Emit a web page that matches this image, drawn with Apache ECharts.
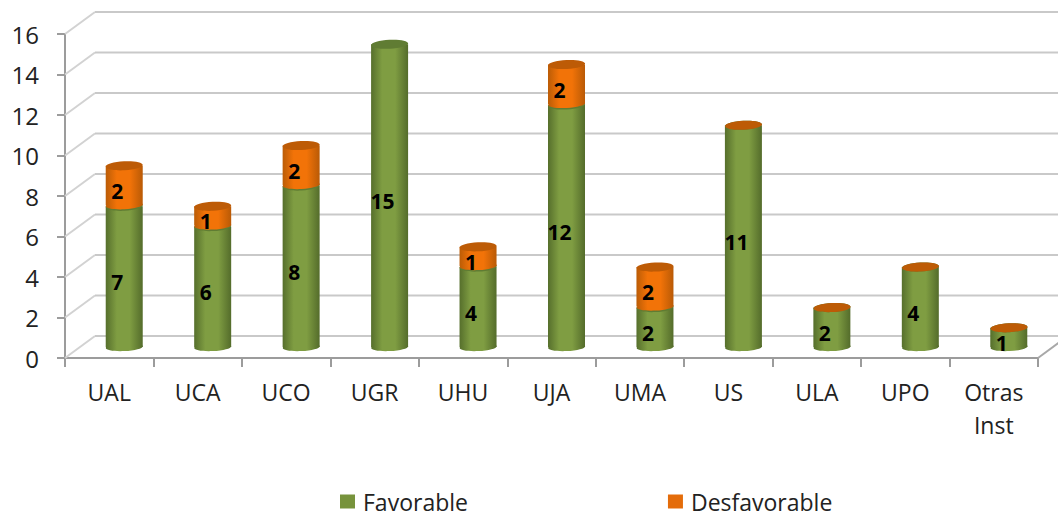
<!DOCTYPE html>
<html>
<head>
<meta charset="utf-8">
<style>
html,body{margin:0;padding:0;background:#fff;}
#myChart{width:1058px;height:516px;}
</style>
<script src="https://cdn.jsdelivr.net/npm/echarts@6/dist/echarts.min.js"></script>
</head>
<body>
<div id="myChart"></div>
<script>
var categories = ["UAL","UCA","UCO","UGR","UHU","UJA","UMA","US","ULA","UPO","Otras\nInst"];
var favorable = [7,6,8,15,4,12,2,11,2,4,1];
// null = no cap drawn at all (UGR), 0 = only the orange cap shows
var desfavorable = [2,1,2,null,1,2,2,0,0,0,0];
var yTicks = [0,2,4,6,8,10,12,14,16];

var depthX = 30, depthY = -22;
var radiusX = 18.5, radiusY = 4.5, tilt = 0.05;
var font = '"Open Sans", sans-serif';

function sideFill(edge, mid, edge2) {
  return {type:"linear",x:0,y:0,x2:1,y2:0,colorStops:[
    {offset:0,color:edge},{offset:0.3,color:mid},{offset:0.65,color:mid},{offset:1,color:edge2}
  ]};
}

function cylinder(colors, showCap) {
  return function (params, api) {
    var base = api.coord([api.value(0), api.value(1)]);
    var top = api.coord([api.value(0), api.value(2)]);
    var cx = base[0] + depthX / 2;
    var y0 = base[1] + depthY / 2;
    var y1 = top[1] + depthY / 2 + 1;
    var fill = sideFill(colors.edge, colors.mid, colors.edge2);
    var kids = [];
    var ell = function (cy, ry, style) {
      return {type:"ellipse",shape:{cx:cx,cy:cy,rx:radiusX,ry:ry},
        rotation:tilt,originX:cx,originY:cy,style:style};
    };
    if (y0 > y1) {
      kids.push(ell(y0, 4, {fill:fill}));
      kids.push({type:"rect",shape:{x:cx-radiusX,y:y1,width:radiusX*2,height:y0-y1},style:{fill:fill}});
    }
    if (showCap) kids.push(ell(y1, radiusY, {fill:colors.cap}));
    var amount = api.value(3);
    if (amount > 0) {
      var mid = api.coord([api.value(0), (api.value(1)+api.value(2))/2]);
      kids.push({type:"text",x:mid[0]+8,y:mid[1]-5,style:{
        text:String(amount),fill:"#000",font:"bold 21px "+font,align:"center",verticalAlign:"middle"}});
    }
    return {type:"group",children:kids};
  };
}

var favData = [], desData = [];
for (var i = 0; i < categories.length; i++) {
  favData.push([i, 0, favorable[i], favorable[i]]);
  if (desfavorable[i] !== null) {
    desData.push([i, favorable[i], favorable[i]+desfavorable[i], desfavorable[i]]);
  }
}

var green = {edge:"#566f2c",mid:"#7f9d42",edge2:"#546c2b",cap:"#607c33"};
var orange = {edge:"#bb5c06",mid:"#f27308",edge2:"#b95a06",cap:"#bd5b06"};

var myChart = echarts.init(document.getElementById("myChart"), null, {renderer:"svg"});
var option = {
  animation:false,
  backgroundColor:"#fff",
  textStyle:{fontFamily:font},
  legend:{
    left:335,top:485,itemWidth:15,itemHeight:14,itemGap:200,
    icon:"rect",
    textStyle:{fontSize:23,color:"#222",fontFamily:font,padding:[0,0,0,3]},
    data:["Favorable","Desfavorable"]
  },
  grid:{left:65,right:20,top:34,bottom:158},
  xAxis:{
    type:"category",data:categories,
    axisLine:{lineStyle:{color:"#9c9c9c",width:2}},
    axisTick:{show:true,length:9,lineStyle:{color:"#9c9c9c",width:2}},
    axisLabel:{fontSize:23,color:"#222",margin:17,lineHeight:33,interval:0,fontFamily:font}
  },
  yAxis:{
    type:"value",min:0,max:16,interval:2,
    splitLine:{show:false},
    axisLine:{show:true,lineStyle:{color:"#9c9c9c",width:2}},
    axisTick:{show:true,length:8,lineStyle:{color:"#9c9c9c",width:2}},
    axisLabel:{fontSize:24,color:"#222",margin:26,fontFamily:font}
  },
  series:[
    {
      // back wall and floor lines
      type:"custom",silent:true,z:1,
      data:yTicks.map(function(t){return [t];}),
      encode:{y:0},
      renderItem:function(params, api){
        var v = api.value(0);
        var p0 = api.coord([0, v]);
        var left = params.coordSys.x, right = left + params.coordSys.width;
        var kids = [
          {type:"line",shape:{x1:left,y1:p0[1],x2:left+depthX,y2:p0[1]+depthY},style:{stroke:"#d2d2d2",lineWidth:2}},
          {type:"line",shape:{x1:left+depthX,y1:p0[1]+depthY,x2:right+depthX,y2:p0[1]+depthY},style:{stroke:"#c9c9c9",lineWidth:2}}
        ];
        if (v === 0) {
          kids.push({type:"line",shape:{x1:right,y1:p0[1],x2:right+depthX,y2:p0[1]+depthY},style:{stroke:"#a8a8a8",lineWidth:2}});
        }
        return {type:"group",children:kids};
      }
    },
    {
      name:"Favorable",type:"custom",z:2,
      itemStyle:{color:"#77933c"},
      data:favData,
      renderItem:cylinder(green, true)
    },
    {
      name:"Desfavorable",type:"custom",z:3,
      itemStyle:{color:"#e46c0a"},
      data:desData,
      renderItem:cylinder(orange, true)
    }
  ]
};
option && myChart.setOption(option);
</script>
</body>
</html>
